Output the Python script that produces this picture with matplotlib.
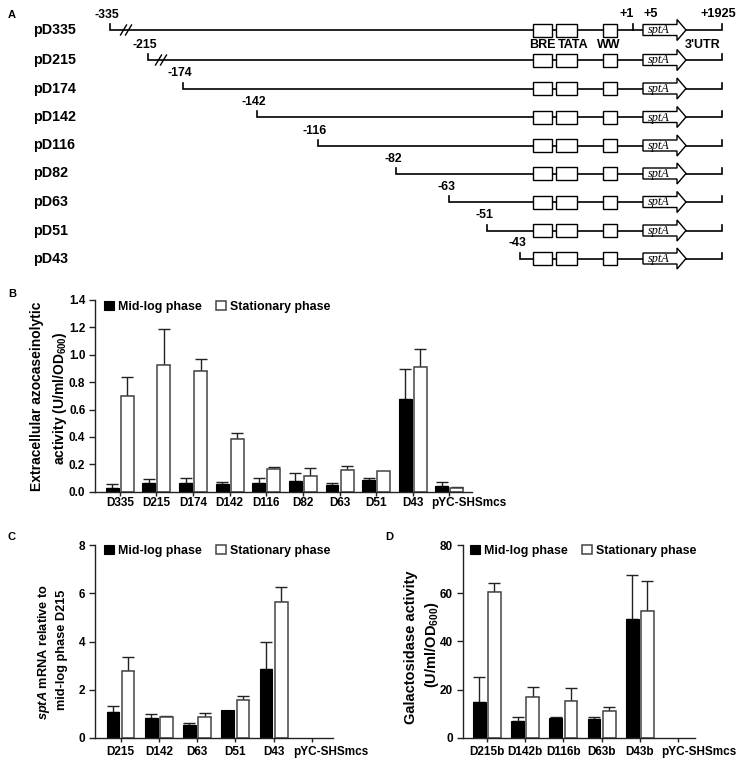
import numpy as np
import matplotlib
matplotlib.use("Agg")
import matplotlib.pyplot as plt
from matplotlib.patches import Rectangle, Polygon
import matplotlib.transforms as mtransforms

plt.rcParams['font.family'] = ['Liberation Sans', 'DejaVu Sans']
plt.rcParams['font.weight'] = 'bold'
plt.rcParams['mathtext.fontset'] = 'custom'
plt.rcParams['mathtext.rm'] = 'Liberation Sans:bold'
plt.rcParams['mathtext.bf'] = 'Liberation Sans:bold'
plt.rcParams['mathtext.it'] = 'Liberation Sans:italic:bold'

# ---------------- data ----------------
constructs = ['pD335', 'pD215', 'pD174', 'pD142', 'pD116', 'pD82', 'pD63', 'pD51', 'pD43']
start_labels = ['-335', '-215', '-174', '-142', '-116', '-82', '-63', '-51', '-43']
broken = [True, True, False, False, False, False, False, False, False]

b_cats = ['D335', 'D215', 'D174', 'D142', 'D116', 'D82', 'D63', 'D51', 'D43', 'pYC-SHSmcs']
b_mid = [0.030, 0.067, 0.067, 0.055, 0.066, 0.078, 0.049, 0.085, 0.677, 0.041]
b_mid_err = [0.025, 0.025, 0.035, 0.014, 0.035, 0.061, 0.012, 0.017, 0.217, 0.027]
b_stat = [0.700, 0.928, 0.880, 0.387, 0.166, 0.114, 0.156, 0.153, 0.908, 0.029]
b_stat_err = [0.140, 0.262, 0.087, 0.039, 0.017, 0.056, 0.034, 0.0, 0.132, 0.008]

c_cats = ['D215', 'D142', 'D63', 'D51', 'D43', 'pYC-SHSmcs']
c_mid = [1.065, 0.84, 0.55, 1.16, 2.84, 0]
c_mid_err = [0.275, 0.16, 0.06, 0, 1.12, 0]
c_stat = [2.77, 0.86, 0.86, 1.56, 5.63, 0]
c_stat_err = [0.59, 0.07, 0.18, 0.18, 0.61, 0]

d_cats = ['D215b', 'D142b', 'D116b', 'D63b', 'D43b', 'pYC-SHSmcs']
d_mid = [14.7, 6.8, 8.2, 7.75, 49.3, 0]
d_mid_err = [10.6, 1.9, 0.5, 0.95, 18.1, 0]
d_stat = [60.3, 16.7, 15.1, 10.9, 52.6, 0]
d_stat_err = [3.8, 4.3, 5.7, 1.7, 12.5, 0]

legend_labels = ['Mid-log phase', 'Stationary phase']

# ---------------- layout (pixels) ----------------
W, H = 751, 769
fig = plt.figure(figsize=(W / 100, H / 100), dpi=100)

def rect(l, t, r, b):
    return [l / W, 1 - b / H, (r - l) / W, (b - t) / H]

ax0 = fig.add_axes([0, 0, 1, 1])
ax0.set_xlim(0, W)
ax0.set_ylim(H, 0)
ax0.axis('off')
ax0.patch.set_alpha(0)

# ---------------- panel A schematic ----------------
row_y = [30, 60, 88.5, 117, 145.5, 173.5, 202, 230.5, 258.5]
start_px = [110, 148, 183, 257, 318, 396, 449, 487, 520]
break_px = [126, 161]
boxes = [(533, 19), (556, 21), (603, 14)]
arrow_x0, arrow_neck, arrow_x1 = 643, 677, 686
end_x = 722
lw = 1.2
for i, (name, lbl, sx) in enumerate(zip(constructs, start_labels, start_px)):
    y = row_y[i]
    ax0.text(33, y, name, ha='left', va='center', fontsize=10.3, fontweight='bold')
    ax0.plot([sx, sx, arrow_x0], [y - 6, y, y], color='black', lw=lw, solid_joinstyle='miter')
    ax0.plot([arrow_x1, end_x, end_x], [y, y, y - 6], color='black', lw=lw, solid_joinstyle='miter')
    ax0.text(sx - 3, y - 15, lbl, ha='center', va='center', fontsize=8.8, fontweight='bold')
    if broken[i]:
        bx = break_px[i]
        for dx in (-2.5, 2.5):
            ax0.plot([bx + dx - 3, bx + dx + 3], [y + 5, y - 5], color='black', lw=1.0)
    for (bx0, bw) in boxes:
        ax0.add_patch(Rectangle((bx0, y - 6.5), bw, 13, facecolor='white', edgecolor='black', lw=1.0, zorder=3))
    poly = Polygon([(arrow_x0, y - 5.5), (arrow_neck, y - 5.5), (arrow_neck, y - 10.5), (arrow_x1, y),
                    (arrow_neck, y + 10.5), (arrow_neck, y + 5.5), (arrow_x0, y + 5.5)],
                   closed=True, facecolor='white', edgecolor='black', lw=1.0, zorder=3)
    ax0.add_patch(poly)
    ax0.text(659, y + 0.5, 'sptA', ha='center', va='center', fontsize=8.8, style='italic',
             fontweight='normal', family=['Liberation Serif'], zorder=4)

y1 = row_y[0]
ax0.plot([633, 633], [y1 - 6, y1], color='black', lw=lw)
for txt, xx in [('+1', 627), ('+5', 651), ('+1925', 718)]:
    ax0.text(xx, y1 - 16, txt, ha='center', va='center', fontsize=9.2, fontweight='bold')
for txt, xx in [('BRE', 542), ('TATA', 573), ('WW', 609), ("3'UTR", 703)]:
    ax0.text(xx, y1 + 15, txt, ha='center', va='center', fontsize=9, fontweight='bold')

# panel letters
for txt, xx, yy in [('A', 8, 15), ('B', 8, 294), ('C', 8, 537), ('D', 385, 537)]:
    ax0.text(xx, yy, txt, ha='left', va='center', fontsize=8, fontweight='bold')

# y-axis labels
ylabels = [
    ('Extracellular azocaseinolytic', 37, 396, 10),
    ('activity (U/ml/OD$_{600}$)', 60, 398, 10),
    ('$\\mathit{sptA}$ mRNA relative to', 44, 652, 9.2),
    ('mid-log phase D215', 62, 650, 9.2),
    ('Galactosidase activity', 411, 647, 10.5),
    ('(U/ml/OD$_{600}$)', 432, 645, 10.5),
]
for txt, xx, yy, fs in ylabels:
    ax0.text(xx, yy, txt, rotation=90, ha='center', va='center', fontsize=fs, fontweight='bold')

# ---------------- bar panels ----------------
def bar_panel(box, cats, mid, mid_err, stat, stat_err, ymax, ystep, fmt, xlim, w, off,
              xpad, last_shift_px, leg_xy):
    ax = fig.add_axes(rect(*box))
    x = np.arange(len(cats))
    mid = np.asarray(mid, float); stat = np.asarray(stat, float)
    mid_err = np.asarray(mid_err, float); stat_err = np.asarray(stat_err, float)
    m1 = mid > 0
    m2 = stat > 0
    hb = ax.bar(x[m1] - off, mid[m1], w, color='black', edgecolor='black', lw=0.8, zorder=2,
                label=legend_labels[0])
    hw = ax.bar(x[m2] + off, stat[m2], w, color='white', edgecolor='#444444', lw=1.1, zorder=2,
                label=legend_labels[1])
    e1 = mid_err > 0
    e2 = stat_err > 0
    ax.errorbar(x[e1] - off, mid[e1], yerr=[np.zeros(e1.sum()), mid_err[e1]], fmt='none',
                ecolor='#222222', elinewidth=1.0, capsize=4.6, capthick=1.0, zorder=1)
    ax.errorbar(x[e2] + off, stat[e2], yerr=[np.zeros(e2.sum()), stat_err[e2]], fmt='none',
                ecolor='#222222', elinewidth=1.0, capsize=4.6, capthick=1.0, zorder=1)
    ax.set_xlim(*xlim)
    ax.set_ylim(0, ymax)
    ticks = np.arange(0, ymax + ystep / 2, ystep)
    ax.set_yticks(ticks)
    ax.set_yticklabels([fmt.format(t) for t in ticks])
    ax.set_xticks(x)
    ax.set_xticklabels(cats)
    for s in ('top', 'right'):
        ax.spines[s].set_visible(False)
    for s in ('left', 'bottom'):
        ax.spines[s].set_color('#222222')
        ax.spines[s].set_linewidth(1.0)
    ax.tick_params(axis='y', direction='out', length=4, width=1, pad=3, labelsize=8.5, colors='#222222',
                   labelcolor='black')
    ax.tick_params(axis='x', direction='out', length=3, width=1, pad=xpad, labelsize=8.5, colors='#222222',
                   labelcolor='black')
    for lab in ax.get_xticklabels() + ax.get_yticklabels():
        lab.set_fontweight('bold')
    lab = ax.get_xticklabels()[-1]
    lab.set_transform(lab.get_transform() + mtransforms.ScaledTranslation(last_shift_px / 100, 0, fig.dpi_scale_trans))
    ax.patch.set_alpha(0)
    ax.legend(handles=[hb, hw], loc='center left', ncol=2, frameon=False,
              bbox_to_anchor=(leg_xy[0] / W, 1 - leg_xy[1] / H), bbox_transform=fig.transFigure,
              borderpad=0, borderaxespad=0, handlelength=0.8, handleheight=0.8,
              handletextpad=0.35, columnspacing=1.15, prop={'size': 8.9, 'weight': 'bold'})
    return ax

bar_panel((95, 300, 472, 491.7), b_cats, b_mid, b_mid_err, b_stat, b_stat_err,
          1.4, 0.2, '{:.1f}', (-0.68, 9.62), 0.355, 0.205, 0.5, 19, (104, 307))
bar_panel((95, 545, 333, 738), c_cats, c_mid, c_mid_err, c_stat, c_stat_err,
          8, 2, '{:.0f}', (-0.666, 5.55), 0.33, 0.198, 2.5, 19, (104, 551))
bar_panel((462.7, 545, 695, 737.7), d_cats, d_mid, d_mid_err, d_stat, d_stat_err,
          80, 20, '{:.0f}', (-0.63, 5.44), 0.33, 0.198, 3, 21, (470, 551))

fig.savefig('out.png', dpi=100)
